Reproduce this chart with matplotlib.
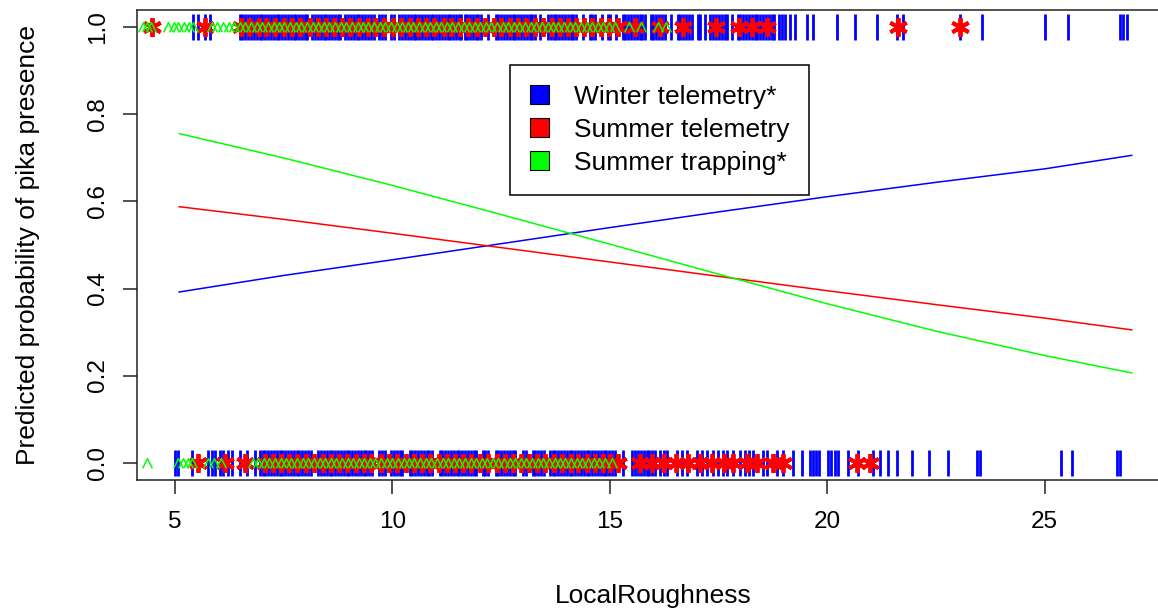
import numpy as np
import matplotlib
matplotlib.use("Agg")
import matplotlib.pyplot as plt
from matplotlib.patches import Patch
from matplotlib.path import Path

plt.rcParams['font.family'] = ['Liberation Sans', 'DejaVu Sans']

# fitted curves (LocalRoughness -> predicted probability)
curve_x = [5.1, 7.5, 10, 12.5, 15, 17.5, 20, 22.5, 25, 27]
winter_fit = [0.392, 0.430, 0.466, 0.503, 0.540, 0.576, 0.611, 0.644, 0.675, 0.706]
summer_tel_fit = [0.588, 0.559, 0.527, 0.494, 0.461, 0.428, 0.395, 0.363, 0.332, 0.305]
summer_trap_fit = [0.756, 0.700, 0.637, 0.570, 0.502, 0.433, 0.365, 0.302, 0.246, 0.206]

# observed presences (y = 1) and absences (y = 0)
winter_pres = [5.41, 5.53, 5.69, 5.80,
    6.49, 6.55, 6.62, 6.68, 6.75, 6.81, 6.88, 6.95, 7.01, 7.08, 7.14, 7.21, 7.27, 7.34, 7.40,
    7.47, 7.53, 7.60, 7.66, 7.73, 7.79, 7.86, 7.92, 7.99, 8.04, 8.16, 8.22, 8.29, 8.35, 8.42,
    8.48, 8.55, 8.61, 8.68, 8.74, 8.80, 8.92, 8.98, 9.05, 9.11, 9.18, 9.24, 9.31, 9.37, 9.44,
    9.50, 9.57, 9.70, 9.77, 9.84, 9.96, 10.03, 10.16, 10.23, 10.29, 10.36, 10.42, 10.49, 10.55,
    10.62, 10.68, 10.75, 10.81, 10.88, 10.94, 11.01, 11.07, 11.14, 11.20, 11.27, 11.33, 11.40,
    11.46, 11.53, 11.59, 11.66, 11.72, 11.79, 11.85, 11.92, 11.98, 12.05, 12.20, 12.38, 12.44,
    12.51, 12.57, 12.64, 12.70, 12.77, 12.83, 12.90, 12.96, 13.03, 13.09, 13.16, 13.22, 13.28,
    13.40, 13.58, 13.64, 13.71, 13.77, 13.84, 13.90, 13.97, 14.03, 14.10, 14.16, 14.23, 14.38,
    14.54, 14.60, 14.67, 14.83, 14.96, 15.01, 15.14, 15.30, 15.36, 15.43, 15.49, 15.56, 15.62,
    15.69, 15.75, 15.81, 15.94, 16.00, 16.07, 16.13, 16.20, 16.26, 16.40, 16.56, 16.62, 16.69,
    16.75, 16.82, 16.88, 17.02, 17.08, 17.20, 17.31, 17.38, 17.44, 17.51, 17.57, 17.64, 17.70,
    17.82, 17.94, 18.00, 18.07, 18.13, 18.20, 18.26, 18.33, 18.39, 18.46, 18.52, 18.59, 18.65,
    18.72, 18.78, 18.90, 18.95, 19.03, 19.14, 19.25, 19.53, 19.67, 20.22, 20.63, 21.14, 21.60,
    21.74, 23.05, 23.55, 25.00, 25.53, 26.72, 26.79, 26.89]
winter_abs = [5.00, 5.07, 5.39, 5.76, 5.85, 5.92, 6.03, 6.10, 6.22, 6.31, 6.49, 6.66, 6.84,
    6.95, 7.02, 7.08, 7.15, 7.21, 7.28, 7.34, 7.41, 7.47, 7.54, 7.60, 7.67, 7.73, 7.80, 7.86,
    7.93, 7.99, 8.06, 8.12, 8.30, 8.36, 8.43, 8.49, 8.56, 8.62, 8.69, 8.75, 8.82, 8.88, 8.95,
    9.01, 9.08, 9.14, 9.21, 9.27, 9.34, 9.40, 9.47, 9.53, 9.70, 9.77, 9.83, 9.97, 10.04, 10.10,
    10.17, 10.23, 10.40, 10.46, 10.53, 10.59, 10.66, 10.72, 10.79, 10.85, 10.92, 11.09, 11.15,
    11.22, 11.28, 11.35, 11.41, 11.48, 11.54, 11.61, 11.67, 11.74, 11.80, 11.87, 11.93, 12.08,
    12.14, 12.21, 12.38, 12.44, 12.51, 12.57, 12.64, 12.70, 12.77, 12.83, 13.00, 13.07, 13.23,
    13.29, 13.36, 13.42, 13.48, 13.62, 13.69, 13.75, 13.82, 13.88, 13.95, 14.01, 14.08, 14.14,
    14.21, 14.27, 14.34, 14.40, 14.47, 14.53, 14.60, 14.66, 14.73, 14.79, 14.86, 14.92, 14.99,
    15.05, 15.12, 15.31, 15.52, 15.59, 15.65, 15.72, 15.78, 15.85, 15.91, 15.98, 16.04, 16.15,
    16.24, 16.31, 16.54, 16.66, 16.77, 17.00, 17.11, 17.23, 17.37, 17.48, 17.60, 17.69, 17.83,
    17.99, 18.10, 18.20, 18.29, 18.52, 18.61, 18.84, 18.98, 19.21, 19.41, 19.60, 19.67, 19.74,
    19.80, 20.01, 20.08, 20.17, 20.24, 20.47, 20.70, 21.05, 21.21, 21.39, 21.60, 21.94, 22.33,
    22.77, 23.44, 23.51, 25.37, 25.62, 26.66, 26.72]

summer_tel_pres = [4.47, 5.69, 6.52, 6.70, 6.93, 7.10, 7.31, 7.52, 7.70, 7.88, 8.10, 8.28,
    8.47, 8.66, 8.85, 9.03, 9.24, 9.43, 9.60, 9.82, 10.01, 10.19, 10.40, 10.58, 10.77, 10.95,
    11.18, 11.36, 11.55, 11.73, 11.94, 12.12, 12.33, 12.50, 12.71, 12.90, 13.08, 13.27, 13.46,
    13.66, 13.85, 14.03, 14.22, 14.41, 14.60, 14.80, 14.98, 15.20, 15.57, 16.15, 16.68, 17.44,
    17.97, 18.26, 18.61, 21.62, 23.05]
summer_tel_abs = [5.53, 6.15, 6.61, 7.07, 7.25, 7.44, 7.63, 7.80, 8.01, 8.19, 8.40, 8.58,
    8.77, 8.95, 9.16, 9.34, 9.52, 9.73, 9.92, 10.10, 10.31, 10.49, 10.68, 10.86, 11.07, 11.25,
    11.45, 11.63, 11.82, 12.02, 12.20, 12.40, 12.58, 12.77, 12.96, 13.15, 13.33, 13.52, 13.72,
    13.90, 14.10, 14.28, 14.47, 14.66, 14.85, 15.00, 15.18, 15.69, 15.97, 16.24, 16.52, 16.79,
    17.07, 17.34, 17.62, 17.83, 18.15, 18.38, 18.75, 18.98, 20.68, 20.98]

summer_trap_pres = [4.26, 4.36, 4.45, 4.85, 4.97, 5.08, 5.20, 5.32, 5.41, 5.85, 5.98, 6.11,
    6.24, 6.37, 6.50, 6.62, 6.75, 6.88, 7.01, 7.14, 7.27, 7.40, 7.52, 7.65, 7.78, 7.91, 8.04,
    8.17, 8.30, 8.42, 8.55, 8.68, 8.81, 8.94, 9.07, 9.20, 9.32, 9.45, 9.58, 9.71, 9.84, 9.97,
    10.10, 10.22, 10.35, 10.48, 10.61, 10.74, 10.87, 11.00, 11.12, 11.25, 11.38, 11.51, 11.64,
    11.77, 11.90, 12.02, 12.15, 12.28, 12.41, 12.54, 12.67, 12.80, 12.92, 13.05, 13.18, 13.31,
    13.44, 13.57, 13.70, 13.82, 13.95, 14.08, 14.21, 14.34, 14.47, 14.60, 14.72, 14.85, 14.98,
    15.11, 15.45, 15.72, 16.10, 16.30]
summer_trap_abs = [4.36, 5.07, 5.18, 5.30, 5.39, 5.76, 5.90, 6.05, 6.79, 6.91, 7.04, 7.17,
    7.30, 7.43, 7.56, 7.68, 7.81, 7.94, 8.07, 8.20, 8.33, 8.46, 8.58, 8.71, 8.84, 8.97, 9.10,
    9.23, 9.36, 9.48, 9.61, 9.74, 9.87, 10.00, 10.13, 10.26, 10.38, 10.51, 10.64, 10.77, 10.90,
    11.03, 11.16, 11.28, 11.41, 11.54, 11.67, 11.80, 11.93, 12.06, 12.18, 12.31, 12.44, 12.57,
    12.70, 12.83, 12.96, 13.08, 13.21, 13.34, 13.47, 13.60, 13.73, 13.86, 13.98, 14.11, 14.24,
    14.37, 14.50, 14.63, 14.76, 14.90, 15.05]

BLUE, RED, GREEN = '#0000ff', '#ff0000', '#00ff00'

fig = plt.figure(figsize=(11.58, 6.14), dpi=100)
# right edge of the R plot region falls just outside the image
ax = fig.add_axes([137/1158, 134/614, 1033/1158, 470/614])

caret = Path([(-1, -1), (0, 1), (1, -1)], [Path.MOVETO, Path.LINETO, Path.LINETO])

ax.plot(curve_x, winter_fit, color=BLUE, lw=1.1)
ax.plot(curve_x, summer_tel_fit, color=RED, lw=1.1)
ax.plot(curve_x, summer_trap_fit, color=GREEN, lw=1.1)

for xs, yv in [(winter_pres, 1), (winter_abs, 0)]:
    ax.plot(xs, [yv]*len(xs), ls='none', marker='|', ms=19, mew=2.0, color=BLUE, clip_on=False)
for xs, yv in [(summer_tel_pres, 1), (summer_tel_abs, 0)]:
    ax.plot(xs, [yv]*len(xs), ls='none', marker=(6, 2, 0), ms=13.5, mew=2.8, color=RED, clip_on=False)
for xs, yv in [(summer_trap_pres, 1), (summer_trap_abs, 0)]:
    ax.plot(xs, [yv]*len(xs), ls='none', marker=caret, ms=7, mew=1.1, mfc='none',
            color=GREEN, clip_on=False)

ax.set_xlim(4.13, 27.88)
ax.set_ylim(-0.04, 1.04)
ax.set_xticks([5, 10, 15, 20, 25])
ax.set_yticks([0, 0.2, 0.4, 0.6, 0.8, 1.0])
ax.set_yticklabels(['0.0', '0.2', '0.4', '0.6', '0.8', '1.0'])
ax.tick_params(axis='both', direction='out', length=10, width=1.1, labelsize=17.5, color='#222222')
ax.tick_params(axis='x', pad=12)
ax.tick_params(axis='y', pad=10, labelrotation=90)
for lab in ax.get_yticklabels():
    lab.set_va('center')
for sp in ax.spines.values():
    sp.set_linewidth(1.1)
    sp.set_color('#222222')

ax.set_xlabel('LocalRoughness', fontsize=19)
ax.xaxis.set_label_coords(0.5, (480-596)/470)
ax.xaxis.label.set_va('center')
ax.set_ylabel('Predicted probability of pika presence', fontsize=19)
ax.yaxis.set_label_coords((28-137)/1033, 0.5)
ax.yaxis.label.set_va('center')

handles = [Patch(facecolor=BLUE, edgecolor='black', lw=0.8),
           Patch(facecolor=RED, edgecolor='black', lw=0.8),
           Patch(facecolor=GREEN, edgecolor='black', lw=0.8)]
leg = ax.legend(handles, ['Winter telemetry*', 'Summer telemetry', 'Summer trapping*'],
                loc='upper left', bbox_to_anchor=((510-137)/1033, (480-65)/470),
                borderaxespad=0, fontsize=19, frameon=True, fancybox=False,
                edgecolor='black', framealpha=1, borderpad=0.75, labelspacing=0.34,
                handlelength=0.72, handleheight=0.72, handletextpad=0.95)
leg.get_frame().set_linewidth(1.1)

fig.savefig('out.png', dpi=100)
